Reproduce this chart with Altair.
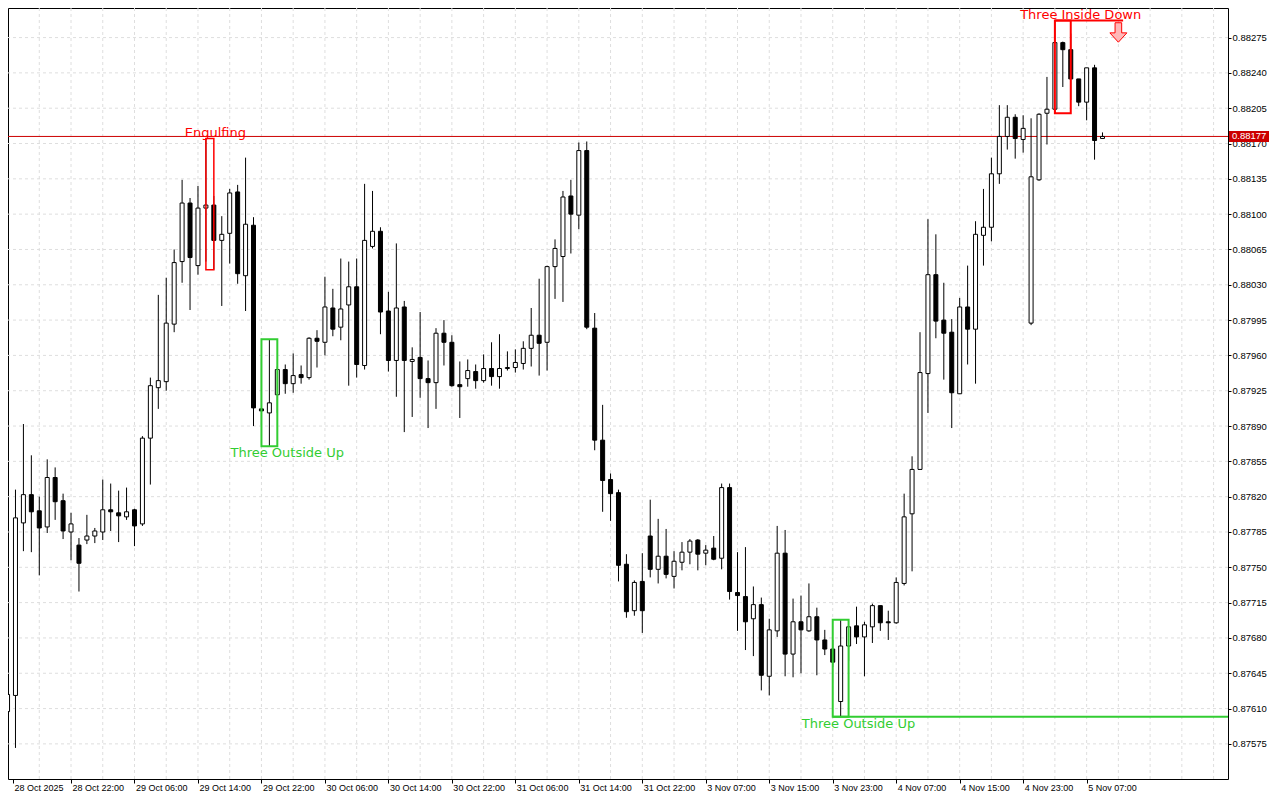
import altair as alt
import pandas as pd

# ---------------- data (H1 candles) ----------------
time_labels = ["28 Oct 2025", "28 Oct 22:00", "29 Oct 06:00", "29 Oct 14:00", "29 Oct 22:00",
               "30 Oct 06:00", "30 Oct 14:00", "30 Oct 22:00", "31 Oct 06:00", "31 Oct 14:00",
               "31 Oct 22:00", "3 Nov 07:00", "3 Nov 15:00", "3 Nov 23:00", "4 Nov 07:00",
               "4 Nov 15:00", "4 Nov 23:00", "5 Nov 07:00"]

price_ticks = [0.87575, 0.87610, 0.87645, 0.87680, 0.87715, 0.87750, 0.87785, 0.87820,
               0.87855, 0.87890, 0.87925, 0.87960, 0.87995, 0.88030, 0.88065, 0.88100,
               0.88135, 0.88170, 0.88205, 0.88240, 0.88275]

opens = [0.87607, 0.87623, 0.87794, 0.87822, 0.87806, 0.87790, 0.87839, 0.87816, 0.87785, 0.87772,
         0.87777, 0.87781, 0.87785, 0.87807, 0.87804, 0.87800, 0.87807, 0.87793, 0.87878, 0.87928,
         0.87934, 0.87991, 0.88053, 0.88111, 0.88049, 0.88106, 0.88109, 0.88074, 0.88081, 0.88122,
         0.88039, 0.88089, 0.87907, 0.87903, 0.87921, 0.87946, 0.87932, 0.87941, 0.87938, 0.87977,
         0.87973, 0.88007, 0.87988, 0.88010, 0.88028, 0.87950, 0.88068, 0.88083, 0.88004, 0.87955,
         0.88008, 0.87954, 0.87958, 0.87937, 0.87933, 0.87982, 0.87973, 0.87931, 0.87937, 0.87944,
         0.87935, 0.87947, 0.87939, 0.87947, 0.87948, 0.87952, 0.87967, 0.87980, 0.87973, 0.88048,
         0.88058, 0.88118, 0.88099, 0.88163, 0.87987, 0.87876, 0.87837, 0.87824, 0.87753, 0.87707,
         0.87736, 0.87781, 0.87748, 0.87761, 0.87741, 0.87755, 0.87765, 0.87777, 0.87764, 0.87769,
         0.87759, 0.87829, 0.87725, 0.87721, 0.87699, 0.87713, 0.87642, 0.87687, 0.87764, 0.87664,
         0.87696, 0.87687, 0.87701, 0.87678, 0.87669, 0.87617, 0.87672, 0.87692, 0.87681, 0.87691,
         0.87712, 0.87696, 0.87695, 0.87734, 0.87803, 0.87847, 0.87942, 0.88040, 0.87995, 0.87983,
         0.87922, 0.88008, 0.87986, 0.88079, 0.88087, 0.88140, 0.88177, 0.88196, 0.88174, 0.87992,
         0.88134, 0.88200, 0.88204, 0.88270, 0.88263, 0.88234, 0.88211, 0.88245, 0.88175]

highs = [0.87638, 0.87827, 0.87892, 0.87861, 0.87820, 0.87857, 0.87849, 0.87823, 0.87804, 0.87779,
         0.87802, 0.87789, 0.87837, 0.87833, 0.87826, 0.87829, 0.87808, 0.87880, 0.87938, 0.88020,
         0.88037, 0.88065, 0.88134, 0.88116, 0.88128, 0.88175, 0.88118, 0.88098, 0.88125, 0.88129,
         0.88156, 0.88097, 0.87957, 0.87976, 0.87949, 0.87951, 0.87962, 0.87950, 0.87978, 0.87985,
         0.88038, 0.88026, 0.88056, 0.88053, 0.88056, 0.88130, 0.88123, 0.88087, 0.88023, 0.88071,
         0.88014, 0.87968, 0.88003, 0.87955, 0.87987, 0.87995, 0.87980, 0.87954, 0.87956, 0.87951,
         0.87961, 0.87973, 0.87981, 0.87964, 0.87966, 0.87974, 0.88007, 0.88036, 0.88049, 0.88075,
         0.88123, 0.88134, 0.88171, 0.88172, 0.88002, 0.87911, 0.87843, 0.87827, 0.87763, 0.87737,
         0.87764, 0.87817, 0.87798, 0.87788, 0.87766, 0.87775, 0.87778, 0.87778, 0.87772, 0.87781,
         0.87833, 0.87833, 0.87765, 0.87770, 0.87731, 0.87720, 0.87699, 0.87791, 0.87787, 0.87719,
         0.87722, 0.87734, 0.87710, 0.87688, 0.87678, 0.87698, 0.87691, 0.87711, 0.87696, 0.87714,
         0.87712, 0.87707, 0.87740, 0.87823, 0.87860, 0.87983, 0.88095, 0.88080, 0.88032, 0.87996,
         0.88017, 0.88049, 0.88093, 0.88125, 0.88156, 0.88208, 0.88208, 0.88199, 0.88198, 0.88195,
         0.88200, 0.88236, 0.88292, 0.88271, 0.88279, 0.88234, 0.88245, 0.88248, 0.88181]

lows = [0.87599, 0.87571, 0.87766, 0.87765, 0.87742, 0.87784, 0.87797, 0.87778, 0.87757, 0.87726,
        0.87773, 0.87774, 0.87777, 0.87786, 0.87775, 0.87797, 0.87771, 0.87791, 0.87832, 0.87907,
        0.87925, 0.87983, 0.88032, 0.88005, 0.88040, 0.88053, 0.88045, 0.88009, 0.88051, 0.88031,
        0.88004, 0.87890, 0.87891, 0.87870, 0.87903, 0.87922, 0.87923, 0.87932, 0.87936, 0.87948,
        0.87960, 0.87979, 0.87975, 0.87930, 0.87938, 0.87946, 0.88066, 0.87981, 0.87944, 0.87919,
        0.87884, 0.87899, 0.87918, 0.87888, 0.87907, 0.87950, 0.87929, 0.87898, 0.87929, 0.87927,
        0.87933, 0.87930, 0.87927, 0.87945, 0.87943, 0.87946, 0.87949, 0.87940, 0.87945, 0.88016,
        0.88013, 0.88061, 0.88085, 0.87986, 0.87866, 0.87805, 0.87796, 0.87736, 0.87700, 0.87702,
        0.87685, 0.87740, 0.87734, 0.87739, 0.87729, 0.87747, 0.87753, 0.87747, 0.87752, 0.87757,
        0.87748, 0.87718, 0.87687, 0.87668, 0.87662, 0.87628, 0.87623, 0.87681, 0.87642, 0.87641,
        0.87645, 0.87686, 0.87643, 0.87663, 0.87651, 0.87602, 0.87657, 0.87674, 0.87642, 0.87675,
        0.87687, 0.87678, 0.87694, 0.87732, 0.87746, 0.87847, 0.87903, 0.87977, 0.87936, 0.87888,
        0.87922, 0.87951, 0.87932, 0.88049, 0.88073, 0.88130, 0.88164, 0.88155, 0.88161, 0.87990,
        0.88133, 0.88169, 0.88200, 0.88226, 0.88213, 0.88207, 0.88193, 0.88154, 0.88175]

closes = [0.87624, 0.87799, 0.87822, 0.87805, 0.87789, 0.87839, 0.87815, 0.87786, 0.87793, 0.87754,
          0.87781, 0.87786, 0.87807, 0.87805, 0.87801, 0.87805, 0.87791, 0.87878, 0.87930, 0.87935,
          0.87992, 0.88052, 0.88111, 0.88057, 0.88106, 0.88109, 0.88074, 0.88080, 0.88121, 0.88041,
          0.88090, 0.87908, 0.87905, 0.87913, 0.87946, 0.87932, 0.87940, 0.87938, 0.87977, 0.87974,
          0.88008, 0.87986, 0.88006, 0.88028, 0.87951, 0.88074, 0.88083, 0.88003, 0.87955, 0.88007,
          0.87955, 0.87956, 0.87937, 0.87933, 0.87982, 0.87973, 0.87930, 0.87929, 0.87945, 0.87935,
          0.87947, 0.87939, 0.87947, 0.87948, 0.87953, 0.87967, 0.87980, 0.87972, 0.88048, 0.88066,
          0.88117, 0.88100, 0.88163, 0.87988, 0.87876, 0.87836, 0.87823, 0.87752, 0.87706, 0.87735,
          0.87707, 0.87748, 0.87761, 0.87743, 0.87756, 0.87765, 0.87776, 0.87763, 0.87767, 0.87758,
          0.87829, 0.87726, 0.87722, 0.87696, 0.87713, 0.87643, 0.87688, 0.87764, 0.87664, 0.87696,
          0.87688, 0.87701, 0.87678, 0.87669, 0.87656, 0.87672, 0.87691, 0.87681, 0.87693, 0.87712,
          0.87695, 0.87695, 0.87735, 0.87800, 0.87847, 0.87943, 0.88040, 0.87994, 0.87982, 0.87923,
          0.88008, 0.87986, 0.88080, 0.88087, 0.88140, 0.88177, 0.88196, 0.88175, 0.88185, 0.88137,
          0.88199, 0.88204, 0.88270, 0.88263, 0.88234, 0.88211, 0.88245, 0.88173, 0.88177]

# candlestick patterns (start/end candle index, price box, label)
pat_names = ["Engulfing", "Three Outside Up", "Three Outside Up", "Three Inside Down"]
pat_start = [25, 32, 104, 132]
pat_end = [26, 34, 106, 134]
pat_high = [0.88175, 0.87976, 0.87698, 0.88292]
pat_low = [0.88045, 0.87870, 0.87602, 0.88200]
pat_label_at = [26.2, 35.25, 107.25, 135.25]
pat_bull = [False, True, True, False]

signal_end = 140.6        # end of the "Three Inside Down" signal line
arrow_at = [140, 0.88280]  # sell arrow (candle index, price)

RED = "#ff0000"
GREEN = "#32cd32"
PRICE_RED = "#cc0000"
GRID = "#dedede"

# ---------------- tables ----------------
n = len(opens)
candles = pd.DataFrame({"i": list(range(n)), "open": opens, "high": highs,
                        "low": lows, "close": closes})
pats = pd.DataFrame({"name": pat_names, "s": pat_start, "e": pat_end, "hi": pat_high,
                     "lo": pat_low, "tx": pat_label_at,
                     "c": [GREEN if b else RED for b in pat_bull],
                     "w": [1.5 if nm == "Engulfing" else 2 for nm in pat_names]})
pats_above = pats[~pats["c"].eq(GREEN)]
pats_below = pats[pats["c"].eq(GREEN)]
last_price = closes[-1]

X_DOMAIN = [0.6875, 153.1875]
Y_DOMAIN = [0.875402, 0.883043]
xs = alt.Scale(domain=X_DOMAIN, nice=False, zero=False)
ys = alt.Scale(domain=Y_DOMAIN, nice=False, zero=False)

tick_idx = [X_DOMAIN[0]] + [8 * k for k in range(1, len(time_labels))]
label_js = "[" + ",".join("'" + t + "'" for t in time_labels) + "]"

x_axis = alt.Axis(values=tick_idx, labelExpr=label_js + "[round(datum.value/8)]",
                  orient="bottom", grid=False, domain=False, title=None,
                  labelAlign="left", labelBaseline="top", labelFont="Liberation Sans",
                  labelFontSize=9, labelColor="black", tickColor="black", tickSize=4,
                  labelPadding=0, labelOffset=1, labelOverlap=False, labelFlush=False)
y_axis = alt.Axis(values=price_ticks, format=".5f", orient="right", grid=False,
                  domain=False, title=None, labelFont="Liberation Sans", labelFontSize=9.5,
                  labelColor="black", tickColor="black", tickSize=3, labelPadding=1,
                  labelOverlap=False, labelFlush=False)


def X(field):
    return alt.X(field, scale=xs, axis=x_axis)


def Y(field):
    return alt.Y(field, scale=ys, axis=y_axis)


hgrid = alt.Chart(pd.DataFrame({"p": price_ticks})).mark_rule(
    color=GRID, strokeDash=[3, 3], strokeWidth=1).encode(y=Y("p:Q"))

vgrid = alt.Chart(pd.DataFrame({"g": list(range(4, 153, 4))})).mark_rule(
    color=GRID, strokeDash=[3, 3], strokeWidth=1).encode(x=X("g:Q"))

price_line = alt.Chart(pd.DataFrame({"p": [last_price]})).mark_rule(
    color=PRICE_RED, strokeWidth=1).encode(y=Y("p:Q"))

support = alt.Chart(pats_below.tail(1)).mark_rule(color=GREEN, strokeWidth=2).encode(
    x=X("s:Q"), x2=alt.value(1220), y=Y("lo:Q"))

wicks = alt.Chart(candles).mark_rule(color="black", strokeWidth=1, clip=True).encode(
    x=X("i:Q"), y=Y("low:Q"), y2="high:Q")

bodies = alt.Chart(candles).mark_bar(size=4, stroke="black", strokeWidth=1, clip=True).encode(
    x=X("i:Q"), y=Y("open:Q"), y2="close:Q",
    fill=alt.condition("datum.close > datum.open", alt.value("white"), alt.value("black")))

boxes = alt.Chart(pats).mark_rect(fillOpacity=0).encode(
    x=X("s:Q"), x2="e:Q", y=Y("hi:Q"), y2="lo:Q",
    stroke=alt.Color("c:N", scale=None),
    strokeWidth=alt.StrokeWidth("w:Q", scale=None))

signal = alt.Chart(pats.tail(1).assign(end=signal_end)).mark_rule(color=RED, strokeWidth=2).encode(
    x=X("s:Q"), x2="end:Q", y=Y("hi:Q"))

text_above = alt.Chart(pats_above).mark_text(
    font="DejaVu Sans", fontSize=13, baseline="alphabetic", align="center", dy=-1.5).encode(
    x=X("tx:Q"), y=Y("hi:Q"), text="name:N", color=alt.Color("c:N", scale=None))

text_below = alt.Chart(pats_below).mark_text(
    font="DejaVu Sans", fontSize=13, baseline="top", align="center", dy=1).encode(
    x=X("tx:Q"), y=Y("lo:Q"), text="name:N", color=alt.Color("c:N", scale=None))

ARROW = "M-0.39,-1.15 L0.39,-1.15 L0.39,0.04 L1,0.04 L0,1.14 L-1,0.04 L-0.39,0.04 Z"
arrow = alt.Chart(pd.DataFrame({"i": [arrow_at[0]], "p": [arrow_at[1]]})).mark_point(
    shape=ARROW, size=289, filled=True, fill="#ffb8b8", stroke=RED, strokeWidth=1,
    opacity=1).encode(x=X("i:Q"), y=Y("p:Q"))

price_tag = pd.DataFrame({"p": [last_price], "t": [f"{last_price:.5f}"]})
tag_box = alt.Chart(price_tag).mark_rule(color=PRICE_RED, strokeWidth=11).encode(
    x=alt.value(1221), x2=alt.value(1261), y=Y("p:Q"))
tag_text = alt.Chart(price_tag).mark_text(
    font="Liberation Sans", fontSize=9.5, align="left", baseline="middle", color="white").encode(
    x=alt.value(1224), y=Y("p:Q"), text="t:N")

chart = alt.layer(
    hgrid, vgrid, price_line, support, wicks, bodies, boxes, signal,
    text_above, text_below, arrow, tag_box, tag_text
).properties(
    width=1220, height=771,
    autosize=alt.AutoSizeParams(type="none"),
    padding={"left": 0, "top": 0, "right": 44, "bottom": 13},
    background="white"
).configure_view(stroke="black", strokeWidth=1)

chart.save("out.html", embed_options={"renderer": "svg", "actions": False})
